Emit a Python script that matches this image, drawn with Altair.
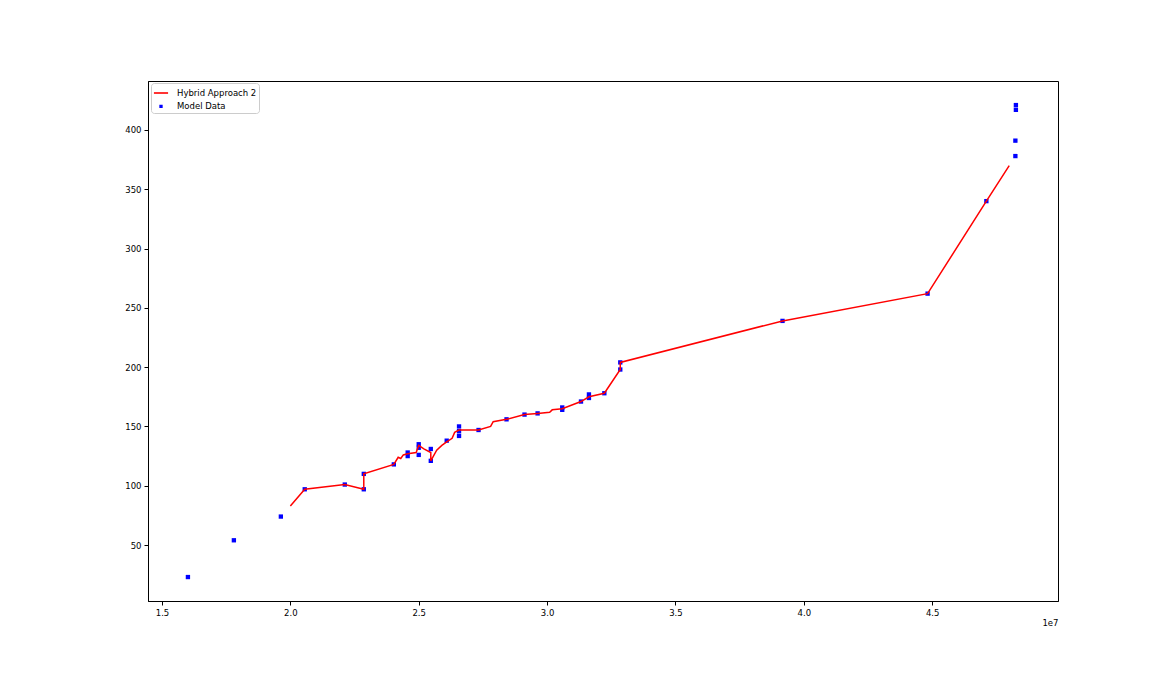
import altair as alt
import pandas as pd

# Model Data (x in units of 1e7)
model_x = [1.601, 1.780, 1.963, 2.056, 2.212, 2.286, 2.286, 2.403, 2.457, 2.457,
           2.500, 2.500, 2.500, 2.547, 2.547, 2.609, 2.657, 2.657, 2.657, 2.733,
           2.842, 2.912, 2.963, 3.059, 3.059, 3.132, 3.163, 3.163, 3.223, 3.285,
           3.285, 3.917, 4.482, 4.711, 4.824, 4.824, 4.826, 4.826]
model_y = [23, 54, 74, 97, 101, 97, 110, 118, 125, 128,
           126, 132, 135, 121, 131, 138, 142, 146, 150, 147,
           156, 160, 161, 164, 166, 171, 174, 177, 178, 198,
           204, 239, 262, 340, 378, 391, 417, 421]

# Hybrid Approach 2 curve
hyb_x = [2.000, 2.056, 2.212, 2.286, 2.286, 2.403, 2.420, 2.430, 2.440, 2.457,
         2.490, 2.500, 2.520, 2.547, 2.547, 2.570, 2.590, 2.609, 2.630, 2.640,
         2.657, 2.733, 2.780, 2.790, 2.842, 2.912, 2.963, 3.010, 3.020, 3.059,
         3.132, 3.163, 3.223, 3.285, 3.285, 3.917, 4.482, 4.711, 4.800]
hyb_y = [83, 97, 101, 97, 110, 118, 124, 123, 126, 127,
         128, 134, 131, 128, 121, 130, 134, 137, 140, 145,
         147, 147, 150, 154, 156, 160, 161, 162, 164, 165,
         171, 175, 178, 198, 204, 239, 262, 340, 370]

series_names = ["Hybrid Approach 2", "Model Data"]
x_ticks = [1.5, 2.0, 2.5, 3.0, 3.5, 4.0, 4.5]
y_ticks = [50, 100, 150, 200, 250, 300, 350, 400]

model_df = pd.DataFrame({"x": model_x, "y": model_y, "series": "Model Data"})
hyb_df = pd.DataFrame({"x": hyb_x, "y": hyb_y, "series": "Hybrid Approach 2",
                       "idx": list(range(len(hyb_x)))})

xscale = alt.Scale(domain=[1.4455, 4.99], nice=False, zero=False)
yscale = alt.Scale(domain=[2.8, 441.3], nice=False, zero=False)
xaxis = alt.Axis(values=x_ticks, labelExpr="format(datum.value, '.1f')", grid=False,
                 title="1e7", titleAnchor="end", titleAlign="right", titleFontWeight="normal",
                 titleFontSize=8.5, titleX=910, titleY=17)
yaxis = alt.Axis(values=y_ticks, grid=False, title=None)

color = alt.Color("series:N", scale=alt.Scale(domain=series_names, range=["#ff0000", "#0000ff"]),
                  legend=alt.Legend(title=None, orient="none", legendX=3, legendY=2,
                                    fillColor="white", strokeColor="#cccccc", cornerRadius=3,
                                    padding=2, labelFontSize=8.5, rowPadding=4.2,
                                    symbolStrokeWidth=1.6, labelOffset=8))
shape = alt.Shape("series:N", scale=alt.Scale(domain=series_names, range=["stroke", "square"]))
size = alt.Size("series:N", scale=alt.Scale(domain=series_names, range=[200, 3]))

points = alt.Chart(model_df).mark_point(filled=False, strokeWidth=2.6, opacity=1).encode(
    x=alt.X("x:Q", scale=xscale, axis=xaxis),
    y=alt.Y("y:Q", scale=yscale, axis=yaxis),
    color=color, shape=shape, size=size,
)

line = alt.Chart(hyb_df).mark_line(strokeWidth=1.5).encode(
    x=alt.X("x:Q", scale=xscale),
    y=alt.Y("y:Q", scale=yscale),
    color=color,
    order="idx:Q",
)

chart = alt.layer(points, line).properties(
    width=910, height=520,
    autosize=alt.AutoSizeParams(type="none"),
    padding={"left": 140, "top": 73, "right": 100, "bottom": 60},
).configure_view(stroke="black", strokeWidth=1).configure_axis(
    domainColor="black", tickColor="black", tickSize=4, labelFontSize=8.5,
    labelColor="black", labelFont="DejaVu Sans", titleFont="DejaVu Sans", titleColor="black",
    labelPadding=3,
).configure_legend(labelFont="DejaVu Sans", labelColor="black")

chart.save("out.html", embed_options={"renderer": "svg", "actions": False})
